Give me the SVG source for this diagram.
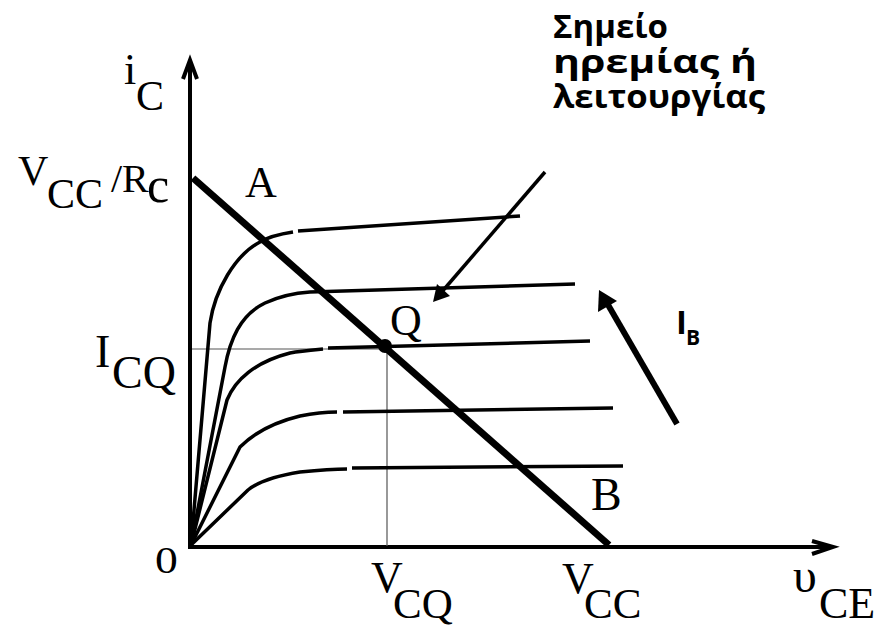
<svg xmlns="http://www.w3.org/2000/svg" width="891" height="629" viewBox="0 0 891 629">
<style>
.serif{font-family:"Liberation Serif","Times New Roman",serif;fill:#000}
.sans{font-family:"Open Sans","Liberation Sans",sans-serif;font-weight:bold;fill:#000}
.curve{fill:none;stroke:#000;stroke-width:3.5;stroke-linecap:butt;stroke-linejoin:round}
.thin{fill:none;stroke:#555;stroke-width:1.2}
.axis{fill:none;stroke:#000;stroke-width:4}
</style>
<rect width="891" height="629" fill="#fff"/>
<g id="axes">
<path class="axis" d="M190,548 V62"/>
<path class="axis" d="M183,79 L190,60 L197,79" stroke-linejoin="miter"/>
<path class="axis" d="M188,547 H830"/>
<path class="axis" d="M812,541 L833,547 L812,554" stroke-linejoin="miter"/>
</g>
<g id="guides">
<path class="thin" d="M192,349 H387 V546"/>
</g>
<g id="curves">
<path class="curve" d="M191,545 L210,323 C215,290 235,255 260,242 C270,236 280,234 293,232 M298,231 L520,216"/>
<path class="curve" d="M191,545 L225,367 C230,340 240,315 265,303 C280,296 295,293 310,292 L575,284"/>
<path class="curve" d="M191,545 L227,400 C235,380 255,362 290,353 C300,351 312,350 323,349 M328,348 L590,341"/>
<path class="curve" d="M191,545 L240,447 C255,432 275,422 300,416 C315,413 325,412 337,412 M343,412 L613,408"/>
<path class="curve" d="M191,545 L248,490 C258,482 275,476 300,472 C320,470 335,469 347,469 M352,468 L623,466"/>
</g>
<g id="loadline">
<path d="M193,178 L609,545" stroke="#000" stroke-width="7" fill="none"/>
</g>
<g id="Q">
<circle cx="385" cy="346" r="7" fill="#000"/>
<text class="serif" x="390" y="335" font-size="44">Q</text>
</g>
<g id="connectors">
<path d="M545,172 L440,294" stroke="#000" stroke-width="3.5" fill="none"/>
<path d="M433,302 L437,284 L450,296 Z" fill="#000"/>
<path d="M677,424 L607,303" stroke="#000" stroke-width="6" fill="none"/>
<path d="M599,290 L598,312 L617,301 Z" fill="#000"/>
</g>
<g id="labels">
<text class="serif" x="124" y="84" font-size="44">i</text>
<text class="serif" x="136" y="110" font-size="42">C</text>
<text class="serif" x="18" y="185" font-size="42">V</text>
<text class="serif" x="47" y="208" font-size="42">CC</text>
<text class="serif" x="111" y="192" font-size="40">/R</text>
<text class="serif" x="147" y="202" font-size="50">c</text>
<text class="serif" x="245" y="197" font-size="44">A</text>
<text class="serif" x="95" y="367" font-size="46">I</text>
<text class="serif" x="112" y="388" font-size="46">CQ</text>
<text class="serif" x="155" y="573" font-size="38" transform="translate(155 573) scale(1.2 1) translate(-155 -573)">0</text>
<text class="serif" x="371" y="592" font-size="44">V</text>
<text class="serif" x="393" y="618" font-size="43">CQ</text>
<text class="serif" x="562" y="593" font-size="44">V</text>
<text class="serif" x="584" y="618" font-size="43">CC</text>
<text class="serif" x="591" y="510" font-size="46">B</text>
<text class="serif" x="793" y="592" font-size="48">υ</text>
<text class="serif" x="819" y="618" font-size="44">CE</text>
<text class="sans" x="676" y="334" font-size="33">I</text>
<text class="sans" x="686" y="345" font-size="21">B</text>
</g>
<g id="note">
<text class="sans" x="553" y="38" font-size="33" textLength="115" lengthAdjust="spacingAndGlyphs">Σημείο</text>
<text class="sans" x="553" y="73" font-size="33" textLength="204" lengthAdjust="spacingAndGlyphs">ηρεμίας ή</text>
<text class="sans" x="553" y="108" font-size="33" textLength="212" lengthAdjust="spacingAndGlyphs">λειτουργίας</text>
</g>
</svg>
